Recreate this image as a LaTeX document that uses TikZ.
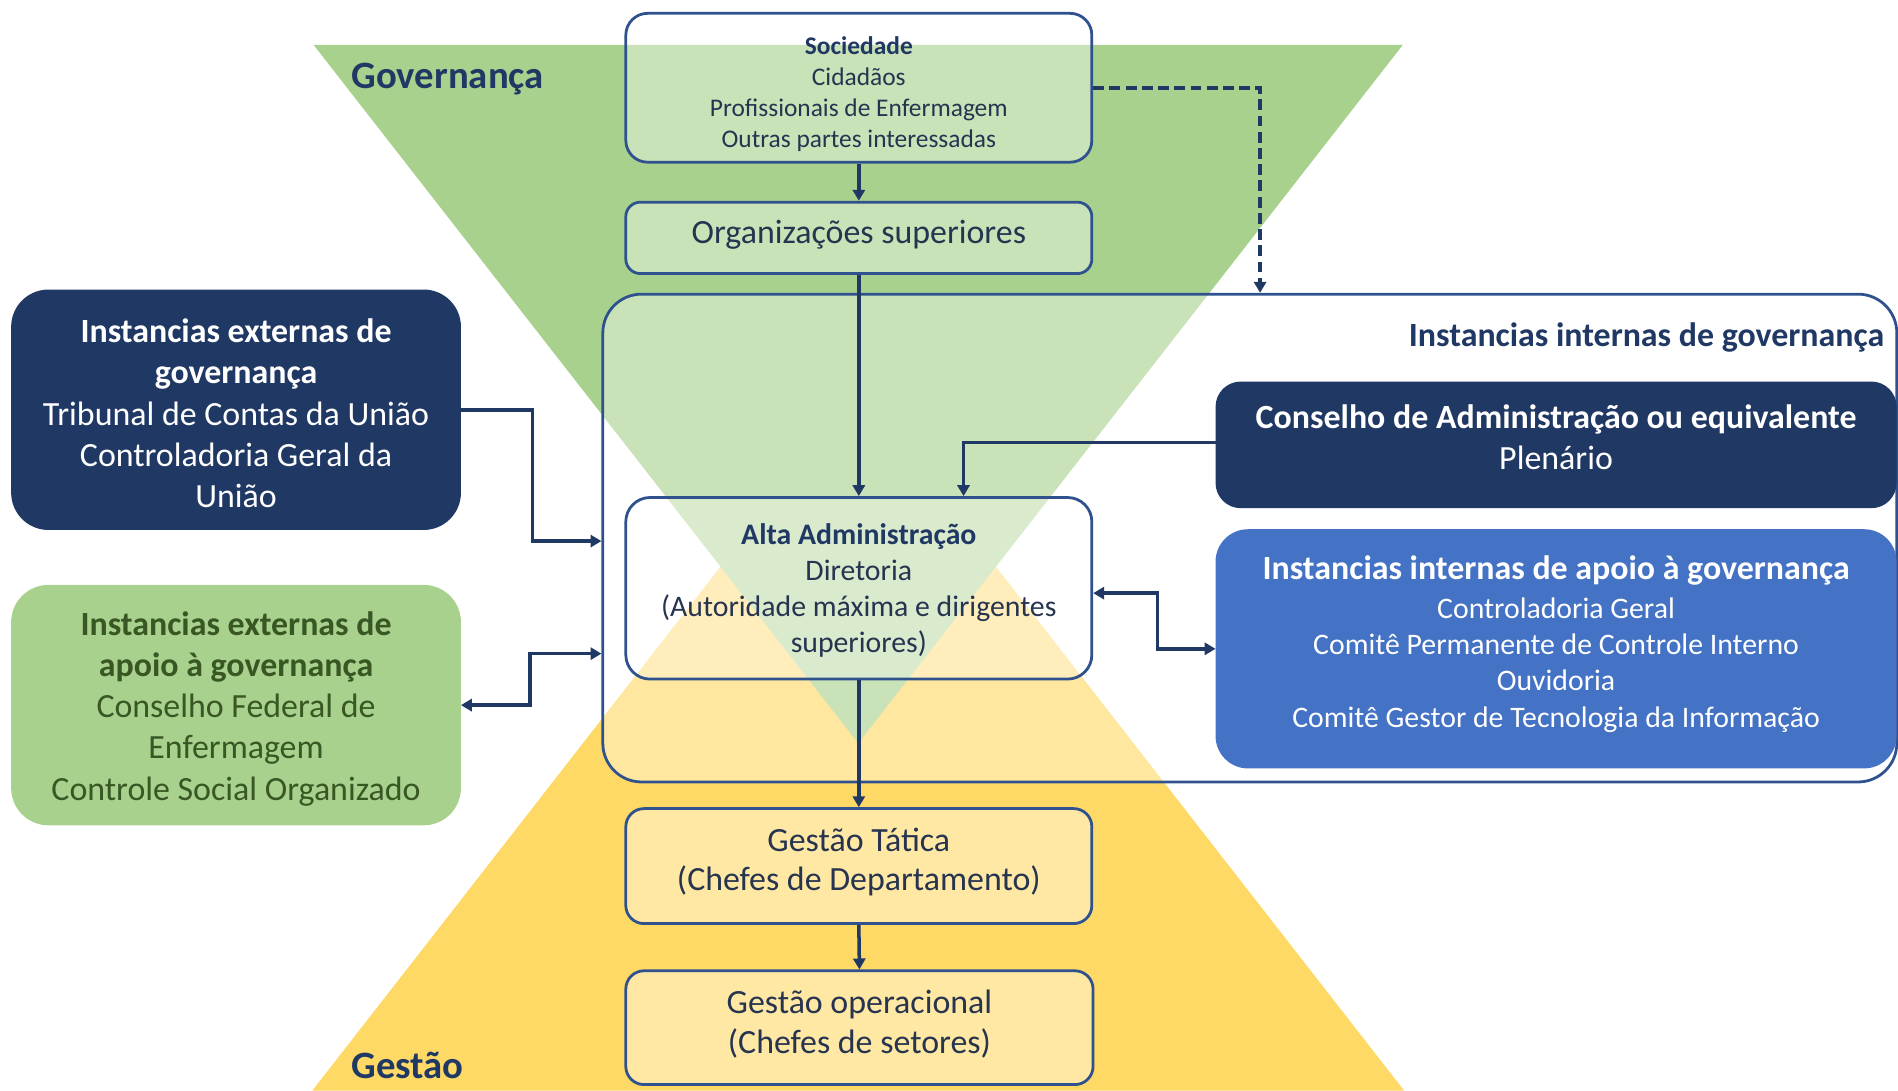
\documentclass[tikz,border=0pt]{standalone}
\usepackage{fontspec}
\setmainfont{Carlito}
\usetikzlibrary{arrows.meta}
\definecolor{navy}{HTML}{203864}
\definecolor{bord}{HTML}{2F528F}
\definecolor{arr}{HTML}{1F3864}
\definecolor{gtri}{HTML}{A9D18E}
\definecolor{ytri}{HTML}{FFD966}
\definecolor{bluebox}{HTML}{4472C4}
\definecolor{dgreen}{HTML}{385723}
\definecolor{txt}{HTML}{263450}
\begin{document}
\begin{tikzpicture}[x=0.5pt,y=-0.5pt,
  lvl/.style={draw=bord,line width=1.15pt,fill=white,fill opacity=0.38,inner sep=0pt},
  solid box/.style={draw=#1,line width=0.8pt,fill=#1,inner sep=0pt},
  tx/.style={align=center,inner sep=0pt,text=txt},
  big/.style={font=\fontsize{14}{17}\selectfont},
  mid/.style={font=\fontsize{12.3}{14.9}\selectfont},
  small/.style={font=\fontsize{10.5}{12.75}\selectfont},
  tip/.tip={Triangle[length=4.5pt,width=5pt]},
  conn/.style={draw=arr,line width=1.45pt,-tip},
  conn2/.style={draw=arr,line width=1.45pt,tip-tip},
  dashconn/.style={draw=arr,line width=1.6pt,dash pattern=on 4.5pt off 2.2pt,-tip}]
\useasboundingbox (0,0) rectangle (1568,901);
% background triangles
\fill[ytri] (709,322) -- (1160,901) -- (258,901) -- cycle;
\fill[gtri] (259,37) -- (1159,37) -- (709,614) -- cycle;
% internal governance frame
\node[lvl,rounded corners=16pt,minimum width=534.5pt,minimum height=201.5pt] (inner) at (1032.5,444.5) {};
\node[anchor=east,inner sep=0pt,text=navy,font=\bfseries\fontsize{14}{17}\selectfont] (innerlbl) at (1557,279) {Instancias internas de governança};
% labels
\node[anchor=west,inner sep=0pt,text=navy,font=\bfseries\fontsize{16}{19}\selectfont] (govlbl) at (290,65) {Governança};
\node[anchor=west,inner sep=0pt,text=navy,font=\bfseries\fontsize{16}{19}\selectfont] (gestlbl) at (290,880) {Gestão};
% central column
\node[lvl,rounded corners=9pt,minimum width=192.5pt,minimum height=61.5pt] (soc) at (709.5,72.5) {};
\node[tx,small] (soct) at (709.5,78) {{\bfseries\color{navy}Sociedade}\\Cidadãos\\Profissionais de Enfermagem\\Outras partes interessadas};
\node[lvl,rounded corners=6pt,minimum width=192.5pt,minimum height=29.5pt] (org) at (709.5,196.5) {};
\node[tx,font=\fontsize{14}{17}\selectfont] (orgt) at (709.5,194) {Organizações superiores};
\node[lvl,fill opacity=0.3,rounded corners=10pt,minimum width=192.5pt,minimum height=75pt] (alta) at (709.5,486) {};
\node[tx,mid] (altat) at (709.5,488) {{\bfseries\color{navy}Alta Administração}\\Diretoria\\(Autoridade máxima e dirigentes\\superiores)};
\node[lvl,fill opacity=0.4,rounded corners=7.5pt,minimum width=192.5pt,minimum height=47.5pt] (tat) at (709.5,715.5) {};
\node[tx,font=\fontsize{14}{16.2}\selectfont] (tatt) at (709.5,712) {Gestão Tática\\(Chefes de Departamento)};
\node[lvl,fill opacity=0.4,rounded corners=7.5pt,minimum width=193pt,minimum height=47pt] (op) at (710,849) {};
\node[tx,font=\fontsize{14}{16.2}\selectfont] (opt) at (710,846) {Gestão operacional\\(Chefes de setores)};
% left boxes
\node[solid box=navy,rounded corners=15pt,minimum width=185pt,minimum height=98.5pt] (extgov) at (195,338.5) {};
\node[align=center,inner sep=0pt,text=white,big] (extgovt) at (195,341.5) {{\bfseries Instancias externas de}\\{\bfseries governança}\\Tribunal de Contas da União\\Controladoria Geral da\\União};
\node[solid box=gtri,rounded corners=15pt,minimum width=185pt,minimum height=98.5pt] (extap) at (195,582.5) {};
\node[align=center,inner sep=0pt,text=dgreen,big] (extapt) at (195,585.5) {{\bfseries Instancias externas de}\\{\bfseries apoio à governança}\\Conselho Federal de\\Enfermagem\\Controle Social Organizado};
% right boxes
\node[solid box=navy,rounded corners=10pt,minimum width=280.5pt,minimum height=51.5pt] (cons) at (1285.5,367.5) {};
\node[align=center,inner sep=0pt,text=white,big] (const) at (1285.5,361.5) {{\bfseries Conselho de Administração ou equivalente}\\Plenário};
\node[solid box=bluebox,rounded corners=13pt,minimum width=280.5pt,minimum height=98pt] (intap) at (1285.5,536) {};
\node[align=center,inner sep=0pt,text=white,mid] (intapt) at (1285.5,532) {{\bfseries\fontsize{14}{17}\selectfont Instancias internas de apoio à governança}\\[1.3pt]Controladoria Geral\\Comitê Permanente de Controle Interno\\Ouvidoria\\Comitê Gestor de Tecnologia da Informação};
% connectors
\draw[conn] (soc.south) -- (org.north);
\draw[conn] (org.south) -- (alta.north);
\draw[conn] (alta.south) -- (tat.north);
\draw[conn] (tat.south) -- (op.north);
\draw[dashconn] (soc.east) -| ([xshift=4.25pt]inner.north);
\draw[conn] ([yshift=1pt]cons.west) -| ([xshift=43.25pt]alta.north);
\draw[conn] (extgov.east) -- ++(59,0) |- ([yshift=-1.25pt]inner.west);
\draw[conn2] ([yshift=-47.75pt]inner.west) -- ++(-59,0) |- (extap.east);
\draw[conn2] ([yshift=-2pt]alta.east) -- ++(53,0) |- (intap.west);
\end{tikzpicture}
\end{document}
